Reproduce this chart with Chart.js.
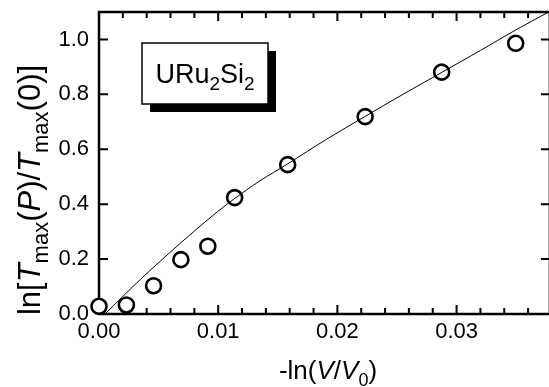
<!DOCTYPE html>
<html>
<head>
<meta charset="utf-8">
<script src="https://cdn.jsdelivr.net/npm/chart.js@4/dist/chart.umd.min.js"></script>
<style>
  html, body { margin:0; padding:0; background:#fff; overflow:hidden; }
  #wrap { width:549px; height:387px; overflow:hidden; }
</style>
</head>
<body>
<div id="wrap"><canvas id="c" width="560" height="387"></canvas></div>
<script>
// measured points  -ln(V/V0)  vs  ln[Tmax(P)/Tmax(0)]
const ptX = [0.0000, 0.0023, 0.00458, 0.00687, 0.00913, 0.01138, 0.01583, 0.02233, 0.02875, 0.03496];
const ptY = [0.028, 0.033, 0.103, 0.198, 0.247, 0.424, 0.544, 0.719, 0.881, 0.986];

// fitted curve
const fitX = [0.0005, 0.0035, 0.00675, 0.0095, 0.01133, 0.0135, 0.0158, 0.019, 0.0223, 0.0255, 0.0288, 0.032, 0.0349, 0.0376, 0.0380];
const fitY = [0.0, 0.127, 0.255, 0.357, 0.419, 0.485, 0.546, 0.634, 0.719, 0.80, 0.881, 0.96, 1.033, 1.097, 1.107];

const xTicks = [0, 0.01, 0.02, 0.03];
const yTicks = [0, 0.2, 0.4, 0.6, 0.8, 1.0];
const xMinorStep = 0.002;
const xRange = [0, 0.03783];
const yRange = [0, 1.1];

const FONT = '"Liberation Sans", Arial, Helvetica, sans-serif';

// text runs: {t, it (italic), sub}
function font(p, size){
  const s = p.sub ? Math.round(size*0.7) : size;
  return (p.it ? 'italic ' : '') + s + 'px ' + FONT;
}
function richWidth(ctx, parts, size){
  let w = 0;
  parts.forEach(p => { ctx.font = font(p, size); w += ctx.measureText(p.t).width; });
  return w;
}
function drawRich(ctx, parts, size, cx, baseY){
  let x = cx - richWidth(ctx, parts, size)/2;
  ctx.textAlign = 'left'; ctx.textBaseline = 'alphabetic';
  parts.forEach(p => {
    ctx.font = font(p, size);
    ctx.fillText(p.t, x, baseY + (p.sub ? size*0.27 : 0));
    x += ctx.measureText(p.t).width;
  });
}

const yTitle = [{t:'ln['},{t:'T',it:1},{t:'max',sub:1},{t:'('},{t:'P',it:1},{t:')/'},{t:'T',it:1},{t:'max',sub:1},{t:'(0)]'}];
const xTitle = [{t:'-ln('},{t:'V',it:1},{t:'/'},{t:'V',it:1},{t:'0',sub:1},{t:')'}];
const label  = [{t:'URu'},{t:'2',sub:1},{t:'Si'},{t:'2',sub:1}];

const frame = {
  id:'frame',
  beforeDatasetsDraw(chart){
    const {ctx, chartArea:a, scales:{x, y}} = chart;
    ctx.save();
    ctx.strokeStyle = '#000';
    ctx.lineWidth = 2.5;
    ctx.strokeRect(a.left, a.top, a.right - a.left, a.bottom - a.top);
    ctx.lineWidth = 2;
    ctx.beginPath();
    for (let i = 0; i * xMinorStep <= xRange[1]; i++){
      const px = x.getPixelForValue(i * xMinorStep);
      const L = (i % 5 === 0) ? 9 : 6;
      ctx.moveTo(px, a.bottom); ctx.lineTo(px, a.bottom - L);
      ctx.moveTo(px, a.top);    ctx.lineTo(px, a.top + L);
    }
    yTicks.forEach(v => {
      const py = y.getPixelForValue(v);
      ctx.moveTo(a.left, py);  ctx.lineTo(a.left + 9, py);
      ctx.moveTo(a.right, py); ctx.lineTo(a.right - 9, py);
    });
    ctx.stroke();
    ctx.restore();
  },
  afterDraw(chart){
    const ctx = chart.ctx;
    ctx.save();
    ctx.fillStyle = '#000';
    // sample label box with drop shadow
    ctx.fillRect(150, 51, 126, 61);
    ctx.fillStyle = '#fff';
    ctx.fillRect(142, 43, 126, 61);
    ctx.strokeStyle = '#000'; ctx.lineWidth = 1.5;
    ctx.strokeRect(142, 43, 126, 61);
    ctx.fillStyle = '#000';
    drawRich(ctx, label, 27, 205, 83);
    // axis titles
    drawRich(ctx, xTitle, 26, 328, 379);
    ctx.translate(40, 190);
    ctx.rotate(-Math.PI/2);
    drawRich(ctx, yTitle, 31, 0, 0);
    ctx.restore();
  }
};

new Chart(document.getElementById('c'), {
  type:'scatter',
  data:{
    datasets:[
      { type:'line', data: fitX.map((v,i)=>({x:v, y:fitY[i]})),
        borderColor:'#000', borderWidth:1, pointRadius:0, tension:0.3, fill:false },
      { data: ptX.map((v,i)=>({x:v, y:ptY[i]})),
        pointStyle:'circle', pointRadius:7.5, pointBorderWidth:2.6,
        pointBackgroundColor:'#fff', pointBorderColor:'#000', clip:false }
    ]
  },
  options:{
    responsive:false, devicePixelRatio:1, animation:false,
    layout:{ padding:{ left:0, right:7, top:12, bottom:0 } },
    plugins:{ legend:{display:false}, tooltip:{enabled:false} },
    scales:{
      x:{
        type:'linear', min:xRange[0], max:xRange[1],
        grid:{ display:false, drawTicks:false }, border:{ display:false },
        afterBuildTicks: s => { s.ticks = xTicks.map(v => ({value:v})); },
        afterFit: s => { s.height = 73; s.paddingLeft = 0; s.paddingRight = 0; },
        ticks:{ padding:5, color:'#000', font:{ family:FONT, size:22 }, callback: v => v.toFixed(2) }
      },
      y:{
        type:'linear', min:yRange[0], max:yRange[1],
        grid:{ display:false, drawTicks:false }, border:{ display:false },
        afterBuildTicks: s => { s.ticks = yTicks.map(v => ({value:v})); },
        afterFit: s => { s.width = 99; s.paddingTop = 0; s.paddingBottom = 0; },
        ticks:{ padding:10, color:'#000', font:{ family:FONT, size:22 }, callback: v => v.toFixed(1) }
      }
    }
  },
  plugins:[frame]
});
</script>
</body>
</html>
